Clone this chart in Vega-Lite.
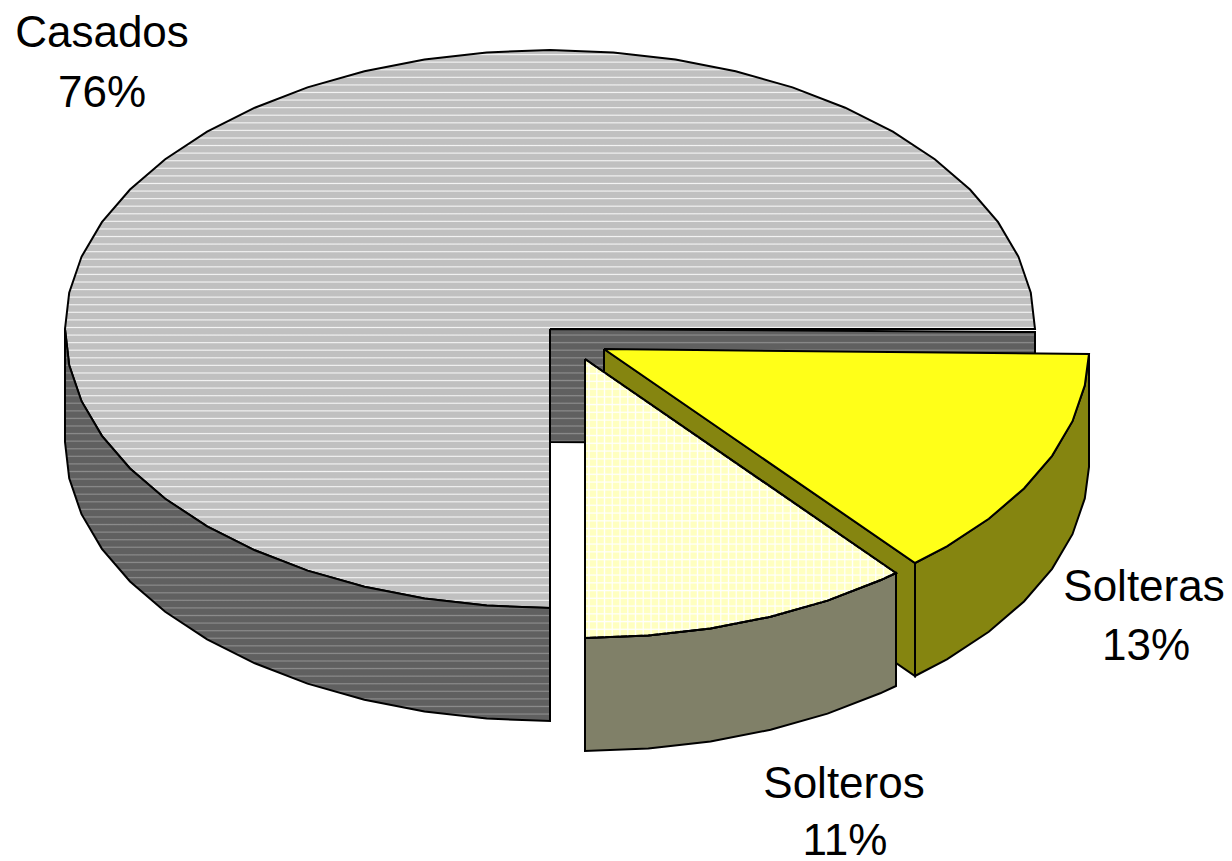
{"$schema":"https://vega.github.io/schema/vega-lite/v6.json","width":1232,"height":861,"padding":0,"autosize":"none","background":"white","view":{"stroke":null},
"datasets":{"shapes":[
{"p":"wall","i":0,"x":550,"y":329},{"p":"wall","i":1,"x":1035,"y":332},{"p":"wall","i":2,"x":1035,"y":445},{"p":"wall","i":3,"x":550,"y":442},{"p":"wall","i":4,"x":550,"y":329},
{"p":"ctop","i":0,"x":550,"y":329},{"p":"ctop","i":1,"x":1035,"y":329},{"p":"ctop","i":2,"x":1030.8,"y":292.6},{"p":"ctop","i":3,"x":1018.5,"y":256.8},{"p":"ctop","i":4,"x":998.1,"y":222.2},{"p":"ctop","i":5,"x":970,"y":189.5},{"p":"ctop","i":6,"x":934.8,"y":159.2},{"p":"ctop","i":7,"x":892.9,"y":131.7},{"p":"ctop","i":8,"x":845.2,"y":107.7},{"p":"ctop","i":9,"x":792.5,"y":87.4},{"p":"ctop","i":10,"x":735.6,"y":71.2},{"p":"ctop","i":11,"x":675.5,"y":59.5},{"p":"ctop","i":12,"x":613.3,"y":52.4},{"p":"ctop","i":13,"x":550,"y":50},{"p":"ctop","i":14,"x":486.7,"y":52.4},{"p":"ctop","i":15,"x":424.5,"y":59.5},{"p":"ctop","i":16,"x":364.4,"y":71.2},{"p":"ctop","i":17,"x":307.5,"y":87.4},{"p":"ctop","i":18,"x":254.8,"y":107.7},{"p":"ctop","i":19,"x":207.1,"y":131.7},{"p":"ctop","i":20,"x":165.2,"y":159.2},{"p":"ctop","i":21,"x":130,"y":189.5},{"p":"ctop","i":22,"x":101.9,"y":222.2},{"p":"ctop","i":23,"x":81.5,"y":256.8},{"p":"ctop","i":24,"x":69.2,"y":292.6},{"p":"ctop","i":25,"x":65,"y":329},{"p":"ctop","i":26,"x":69.2,"y":365.4},{"p":"ctop","i":27,"x":81.5,"y":401.2},{"p":"ctop","i":28,"x":101.9,"y":435.8},{"p":"ctop","i":29,"x":130,"y":468.5},{"p":"ctop","i":30,"x":165.2,"y":498.8},{"p":"ctop","i":31,"x":207.1,"y":526.3},{"p":"ctop","i":32,"x":254.8,"y":550.3},{"p":"ctop","i":33,"x":307.5,"y":570.6},{"p":"ctop","i":34,"x":364.4,"y":586.8},{"p":"ctop","i":35,"x":424.5,"y":598.5},{"p":"ctop","i":36,"x":486.7,"y":605.6},{"p":"ctop","i":37,"x":550,"y":608},{"p":"ctop","i":38,"x":550,"y":329},
{"p":"cside","i":0,"x":65,"y":329},{"p":"cside","i":1,"x":69.2,"y":365.4},{"p":"cside","i":2,"x":81.5,"y":401.2},{"p":"cside","i":3,"x":101.9,"y":435.8},{"p":"cside","i":4,"x":130,"y":468.5},{"p":"cside","i":5,"x":165.2,"y":498.8},{"p":"cside","i":6,"x":207.1,"y":526.3},{"p":"cside","i":7,"x":254.8,"y":550.3},{"p":"cside","i":8,"x":307.5,"y":570.6},{"p":"cside","i":9,"x":364.4,"y":586.8},{"p":"cside","i":10,"x":424.5,"y":598.5},{"p":"cside","i":11,"x":486.7,"y":605.6},{"p":"cside","i":12,"x":550,"y":608},{"p":"cside","i":13,"x":550,"y":721},{"p":"cside","i":14,"x":486.7,"y":718.6},{"p":"cside","i":15,"x":424.5,"y":711.5},{"p":"cside","i":16,"x":364.4,"y":699.8},{"p":"cside","i":17,"x":307.5,"y":683.6},{"p":"cside","i":18,"x":254.8,"y":663.3},{"p":"cside","i":19,"x":207.1,"y":639.3},{"p":"cside","i":20,"x":165.2,"y":611.8},{"p":"cside","i":21,"x":130,"y":581.5},{"p":"cside","i":22,"x":101.9,"y":548.8},{"p":"cside","i":23,"x":81.5,"y":514.2},{"p":"cside","i":24,"x":69.2,"y":478.4},{"p":"cside","i":25,"x":65,"y":442},{"p":"cside","i":26,"x":65,"y":329},
{"p":"ywall","i":0,"x":604,"y":349},{"p":"ywall","i":1,"x":915,"y":563},{"p":"ywall","i":2,"x":915,"y":676},{"p":"ywall","i":3,"x":604,"y":462},{"p":"ywall","i":4,"x":604,"y":349},
{"p":"yside","i":0,"x":1089,"y":354},{"p":"yside","i":1,"x":1084.8,"y":385.4},{"p":"yside","i":2,"x":1072.5,"y":421.2},{"p":"yside","i":3,"x":1052.1,"y":455.8},{"p":"yside","i":4,"x":1024,"y":488.5},{"p":"yside","i":5,"x":988.8,"y":518.8},{"p":"yside","i":6,"x":946.9,"y":546.3},{"p":"yside","i":7,"x":915,"y":563},{"p":"yside","i":8,"x":915,"y":676},{"p":"yside","i":9,"x":946.9,"y":659.3},{"p":"yside","i":10,"x":988.8,"y":631.8},{"p":"yside","i":11,"x":1024,"y":601.5},{"p":"yside","i":12,"x":1052.1,"y":568.8},{"p":"yside","i":13,"x":1072.5,"y":534.2},{"p":"yside","i":14,"x":1084.8,"y":498.4},{"p":"yside","i":15,"x":1089,"y":467},{"p":"yside","i":16,"x":1089,"y":354},
{"p":"ytop","i":0,"x":604,"y":349},{"p":"ytop","i":1,"x":1089,"y":354},{"p":"ytop","i":2,"x":1084.8,"y":385.4},{"p":"ytop","i":3,"x":1072.5,"y":421.2},{"p":"ytop","i":4,"x":1052.1,"y":455.8},{"p":"ytop","i":5,"x":1024,"y":488.5},{"p":"ytop","i":6,"x":988.8,"y":518.8},{"p":"ytop","i":7,"x":946.9,"y":546.3},{"p":"ytop","i":8,"x":915,"y":563},{"p":"ytop","i":9,"x":604,"y":349},
{"p":"sside","i":0,"x":585,"y":638},{"p":"sside","i":1,"x":648.3,"y":635.6},{"p":"sside","i":2,"x":710.5,"y":628.5},{"p":"sside","i":3,"x":770.6,"y":616.8},{"p":"sside","i":4,"x":827.5,"y":600.6},{"p":"sside","i":5,"x":880.2,"y":580.3},{"p":"sside","i":6,"x":896,"y":573},{"p":"sside","i":7,"x":896,"y":686},{"p":"sside","i":8,"x":880.2,"y":693.3},{"p":"sside","i":9,"x":827.5,"y":713.6},{"p":"sside","i":10,"x":770.6,"y":729.8},{"p":"sside","i":11,"x":710.5,"y":741.5},{"p":"sside","i":12,"x":648.3,"y":748.6},{"p":"sside","i":13,"x":585,"y":751},{"p":"sside","i":14,"x":585,"y":638},
{"p":"stop","i":0,"x":585,"y":359},{"p":"stop","i":1,"x":896,"y":573},{"p":"stop","i":2,"x":880.2,"y":580.3},{"p":"stop","i":3,"x":827.5,"y":600.6},{"p":"stop","i":4,"x":770.6,"y":616.8},{"p":"stop","i":5,"x":710.5,"y":628.5},{"p":"stop","i":6,"x":648.3,"y":635.6},{"p":"stop","i":7,"x":585,"y":638},{"p":"stop","i":8,"x":585,"y":359}
],"labels":[{"t":"Casados","x":102,"y":47},{"t":"76%","x":102,"y":107},{"t":"Solteras","x":1144,"y":601},{"t":"13%","x":1146,"y":660},{"t":"Solteros","x":844,"y":798},{"t":"11%","x":845,"y":855}]},
"encoding":{"x":{"field":"x","type":"quantitative","scale":{"domain":[0,1232]},"axis":null},"y":{"field":"y","type":"quantitative","scale":{"domain":[861,0]},"axis":null}},
"layer":[
{"data":{"name":"shapes"},"transform":[{"filter":"datum.p=='wall'"}],"mark":{"type":"line","stroke":"black","strokeWidth":2,"fill":{"gradient":"linear","x1":0,"y1":0,"x2":0,"y2":1,"stops":[
{"offset":0.0418,"color":"#606060"},{"offset":0.0521,"color":"#8c8c8c"},{"offset":0.0624,"color":"#606060"},{"offset":0.1071,"color":"#606060"},{"offset":0.1174,"color":"#8c8c8c"},{"offset":0.1277,"color":"#606060"},{"offset":0.1725,"color":"#606060"},{"offset":0.1828,"color":"#8c8c8c"},{"offset":0.1931,"color":"#606060"},{"offset":0.2378,"color":"#606060"},{"offset":0.2481,"color":"#8c8c8c"},{"offset":0.2584,"color":"#606060"},{"offset":0.3032,"color":"#606060"},{"offset":0.3135,"color":"#8c8c8c"},{"offset":0.3238,"color":"#606060"},{"offset":0.3685,"color":"#606060"},{"offset":0.3788,"color":"#8c8c8c"},{"offset":0.3891,"color":"#606060"},{"offset":0.4338,"color":"#606060"},{"offset":0.4441,"color":"#8c8c8c"},{"offset":0.4544,"color":"#606060"},{"offset":0.4992,"color":"#606060"},{"offset":0.5095,"color":"#8c8c8c"},{"offset":0.5198,"color":"#606060"},{"offset":0.5645,"color":"#606060"},{"offset":0.5748,"color":"#8c8c8c"},{"offset":0.5851,"color":"#606060"},{"offset":0.6299,"color":"#606060"},{"offset":0.6402,"color":"#8c8c8c"},{"offset":0.6505,"color":"#606060"},{"offset":0.6952,"color":"#606060"},{"offset":0.7055,"color":"#8c8c8c"},{"offset":0.7158,"color":"#606060"},{"offset":0.7605,"color":"#606060"},{"offset":0.7708,"color":"#8c8c8c"},{"offset":0.7811,"color":"#606060"},{"offset":0.8259,"color":"#606060"},{"offset":0.8362,"color":"#8c8c8c"},{"offset":0.8465,"color":"#606060"},{"offset":0.8912,"color":"#606060"},{"offset":0.9015,"color":"#8c8c8c"},{"offset":0.9118,"color":"#606060"},{"offset":0.9566,"color":"#606060"},{"offset":0.9669,"color":"#8c8c8c"},{"offset":0.9772,"color":"#606060"}]},"clip":false},"encoding":{"order":{"field":"i"}}},
{"data":{"name":"shapes"},"transform":[{"filter":"datum.p=='ctop'"}],"mark":{"type":"line","stroke":"black","strokeWidth":2,"fill":{"gradient":"linear","x1":0,"y1":0,"x2":0,"y2":1,"stops":[
{"offset":0.0062,"color":"#c0c0c0"},{"offset":0.0082,"color":"#f4f4f4"},{"offset":0.0102,"color":"#c0c0c0"},{"offset":0.0198,"color":"#c0c0c0"},{"offset":0.0218,"color":"#f4f4f4"},{"offset":0.0238,"color":"#c0c0c0"},{"offset":0.0334,"color":"#c0c0c0"},{"offset":0.0354,"color":"#f4f4f4"},{"offset":0.0374,"color":"#c0c0c0"},{"offset":0.047,"color":"#c0c0c0"},{"offset":0.049,"color":"#f4f4f4"},{"offset":0.051,"color":"#c0c0c0"},{"offset":0.0606,"color":"#c0c0c0"},{"offset":0.0626,"color":"#f4f4f4"},{"offset":0.0646,"color":"#c0c0c0"},{"offset":0.0741,"color":"#c0c0c0"},{"offset":0.0761,"color":"#f4f4f4"},{"offset":0.0781,"color":"#c0c0c0"},{"offset":0.0877,"color":"#c0c0c0"},{"offset":0.0897,"color":"#f4f4f4"},{"offset":0.0917,"color":"#c0c0c0"},{"offset":0.1013,"color":"#c0c0c0"},{"offset":0.1033,"color":"#f4f4f4"},{"offset":0.1053,"color":"#c0c0c0"},{"offset":0.1149,"color":"#c0c0c0"},{"offset":0.1169,"color":"#f4f4f4"},{"offset":0.1189,"color":"#c0c0c0"},{"offset":0.1285,"color":"#c0c0c0"},{"offset":0.1305,"color":"#f4f4f4"},{"offset":0.1325,"color":"#c0c0c0"},{"offset":0.1421,"color":"#c0c0c0"},{"offset":0.1441,"color":"#f4f4f4"},{"offset":0.1461,"color":"#c0c0c0"},{"offset":0.1557,"color":"#c0c0c0"},{"offset":0.1577,"color":"#f4f4f4"},{"offset":0.1597,"color":"#c0c0c0"},{"offset":0.1692,"color":"#c0c0c0"},{"offset":0.1712,"color":"#f4f4f4"},{"offset":0.1732,"color":"#c0c0c0"},{"offset":0.1828,"color":"#c0c0c0"},{"offset":0.1848,"color":"#f4f4f4"},{"offset":0.1868,"color":"#c0c0c0"},{"offset":0.1964,"color":"#c0c0c0"},{"offset":0.1984,"color":"#f4f4f4"},{"offset":0.2004,"color":"#c0c0c0"},{"offset":0.21,"color":"#c0c0c0"},{"offset":0.212,"color":"#f4f4f4"},{"offset":0.214,"color":"#c0c0c0"},{"offset":0.2236,"color":"#c0c0c0"},{"offset":0.2256,"color":"#f4f4f4"},{"offset":0.2276,"color":"#c0c0c0"},{"offset":0.2372,"color":"#c0c0c0"},{"offset":0.2392,"color":"#f4f4f4"},{"offset":0.2412,"color":"#c0c0c0"},{"offset":0.2508,"color":"#c0c0c0"},{"offset":0.2528,"color":"#f4f4f4"},{"offset":0.2548,"color":"#c0c0c0"},{"offset":0.2643,"color":"#c0c0c0"},{"offset":0.2663,"color":"#f4f4f4"},{"offset":0.2683,"color":"#c0c0c0"},{"offset":0.2779,"color":"#c0c0c0"},{"offset":0.2799,"color":"#f4f4f4"},{"offset":0.2819,"color":"#c0c0c0"},{"offset":0.2915,"color":"#c0c0c0"},{"offset":0.2935,"color":"#f4f4f4"},{"offset":0.2955,"color":"#c0c0c0"},{"offset":0.3051,"color":"#c0c0c0"},{"offset":0.3071,"color":"#f4f4f4"},{"offset":0.3091,"color":"#c0c0c0"},{"offset":0.3187,"color":"#c0c0c0"},{"offset":0.3207,"color":"#f4f4f4"},{"offset":0.3227,"color":"#c0c0c0"},{"offset":0.3323,"color":"#c0c0c0"},{"offset":0.3343,"color":"#f4f4f4"},{"offset":0.3363,"color":"#c0c0c0"},{"offset":0.3458,"color":"#c0c0c0"},{"offset":0.3478,"color":"#f4f4f4"},{"offset":0.3498,"color":"#c0c0c0"},{"offset":0.3594,"color":"#c0c0c0"},{"offset":0.3614,"color":"#f4f4f4"},{"offset":0.3634,"color":"#c0c0c0"},{"offset":0.373,"color":"#c0c0c0"},{"offset":0.375,"color":"#f4f4f4"},{"offset":0.377,"color":"#c0c0c0"},{"offset":0.3866,"color":"#c0c0c0"},{"offset":0.3886,"color":"#f4f4f4"},{"offset":0.3906,"color":"#c0c0c0"},{"offset":0.4002,"color":"#c0c0c0"},{"offset":0.4022,"color":"#f4f4f4"},{"offset":0.4042,"color":"#c0c0c0"},{"offset":0.4138,"color":"#c0c0c0"},{"offset":0.4158,"color":"#f4f4f4"},{"offset":0.4178,"color":"#c0c0c0"},{"offset":0.4273,"color":"#c0c0c0"},{"offset":0.4293,"color":"#f4f4f4"},{"offset":0.4313,"color":"#c0c0c0"},{"offset":0.4409,"color":"#c0c0c0"},{"offset":0.4429,"color":"#f4f4f4"},{"offset":0.4449,"color":"#c0c0c0"},{"offset":0.4545,"color":"#c0c0c0"},{"offset":0.4565,"color":"#f4f4f4"},{"offset":0.4585,"color":"#c0c0c0"},{"offset":0.4681,"color":"#c0c0c0"},{"offset":0.4701,"color":"#f4f4f4"},{"offset":0.4721,"color":"#c0c0c0"},{"offset":0.4817,"color":"#c0c0c0"},{"offset":0.4837,"color":"#f4f4f4"},{"offset":0.4857,"color":"#c0c0c0"},{"offset":0.4953,"color":"#c0c0c0"},{"offset":0.4973,"color":"#f4f4f4"},{"offset":0.4993,"color":"#c0c0c0"},{"offset":0.5089,"color":"#c0c0c0"},{"offset":0.5109,"color":"#f4f4f4"},{"offset":0.5129,"color":"#c0c0c0"},{"offset":0.5224,"color":"#c0c0c0"},{"offset":0.5244,"color":"#f4f4f4"},{"offset":0.5264,"color":"#c0c0c0"},{"offset":0.536,"color":"#c0c0c0"},{"offset":0.538,"color":"#f4f4f4"},{"offset":0.54,"color":"#c0c0c0"},{"offset":0.5496,"color":"#c0c0c0"},{"offset":0.5516,"color":"#f4f4f4"},{"offset":0.5536,"color":"#c0c0c0"},{"offset":0.5632,"color":"#c0c0c0"},{"offset":0.5652,"color":"#f4f4f4"},{"offset":0.5672,"color":"#c0c0c0"},{"offset":0.5768,"color":"#c0c0c0"},{"offset":0.5788,"color":"#f4f4f4"},{"offset":0.5808,"color":"#c0c0c0"},{"offset":0.5904,"color":"#c0c0c0"},{"offset":0.5924,"color":"#f4f4f4"},{"offset":0.5944,"color":"#c0c0c0"},{"offset":0.6039,"color":"#c0c0c0"},{"offset":0.6059,"color":"#f4f4f4"},{"offset":0.6079,"color":"#c0c0c0"},{"offset":0.6175,"color":"#c0c0c0"},{"offset":0.6195,"color":"#f4f4f4"},{"offset":0.6215,"color":"#c0c0c0"},{"offset":0.6311,"color":"#c0c0c0"},{"offset":0.6331,"color":"#f4f4f4"},{"offset":0.6351,"color":"#c0c0c0"},{"offset":0.6447,"color":"#c0c0c0"},{"offset":0.6467,"color":"#f4f4f4"},{"offset":0.6487,"color":"#c0c0c0"},{"offset":0.6583,"color":"#c0c0c0"},{"offset":0.6603,"color":"#f4f4f4"},{"offset":0.6623,"color":"#c0c0c0"},{"offset":0.6719,"color":"#c0c0c0"},{"offset":0.6739,"color":"#f4f4f4"},{"offset":0.6759,"color":"#c0c0c0"},{"offset":0.6854,"color":"#c0c0c0"},{"offset":0.6874,"color":"#f4f4f4"},{"offset":0.6894,"color":"#c0c0c0"},{"offset":0.699,"color":"#c0c0c0"},{"offset":0.701,"color":"#f4f4f4"},{"offset":0.703,"color":"#c0c0c0"},{"offset":0.7126,"color":"#c0c0c0"},{"offset":0.7146,"color":"#f4f4f4"},{"offset":0.7166,"color":"#c0c0c0"},{"offset":0.7262,"color":"#c0c0c0"},{"offset":0.7282,"color":"#f4f4f4"},{"offset":0.7302,"color":"#c0c0c0"},{"offset":0.7398,"color":"#c0c0c0"},{"offset":0.7418,"color":"#f4f4f4"},{"offset":0.7438,"color":"#c0c0c0"},{"offset":0.7534,"color":"#c0c0c0"},{"offset":0.7554,"color":"#f4f4f4"},{"offset":0.7574,"color":"#c0c0c0"},{"offset":0.767,"color":"#c0c0c0"},{"offset":0.769,"color":"#f4f4f4"},{"offset":0.771,"color":"#c0c0c0"},{"offset":0.7805,"color":"#c0c0c0"},{"offset":0.7825,"color":"#f4f4f4"},{"offset":0.7845,"color":"#c0c0c0"},{"offset":0.7941,"color":"#c0c0c0"},{"offset":0.7961,"color":"#f4f4f4"},{"offset":0.7981,"color":"#c0c0c0"},{"offset":0.8077,"color":"#c0c0c0"},{"offset":0.8097,"color":"#f4f4f4"},{"offset":0.8117,"color":"#c0c0c0"},{"offset":0.8213,"color":"#c0c0c0"},{"offset":0.8233,"color":"#f4f4f4"},{"offset":0.8253,"color":"#c0c0c0"},{"offset":0.8349,"color":"#c0c0c0"},{"offset":0.8369,"color":"#f4f4f4"},{"offset":0.8389,"color":"#c0c0c0"},{"offset":0.8485,"color":"#c0c0c0"},{"offset":0.8505,"color":"#f4f4f4"},{"offset":0.8525,"color":"#c0c0c0"},{"offset":0.862,"color":"#c0c0c0"},{"offset":0.864,"color":"#f4f4f4"},{"offset":0.866,"color":"#c0c0c0"},{"offset":0.8756,"color":"#c0c0c0"},{"offset":0.8776,"color":"#f4f4f4"},{"offset":0.8796,"color":"#c0c0c0"},{"offset":0.8892,"color":"#c0c0c0"},{"offset":0.8912,"color":"#f4f4f4"},{"offset":0.8932,"color":"#c0c0c0"},{"offset":0.9028,"color":"#c0c0c0"},{"offset":0.9048,"color":"#f4f4f4"},{"offset":0.9068,"color":"#c0c0c0"},{"offset":0.9164,"color":"#c0c0c0"},{"offset":0.9184,"color":"#f4f4f4"},{"offset":0.9204,"color":"#c0c0c0"},{"offset":0.93,"color":"#c0c0c0"},{"offset":0.932,"color":"#f4f4f4"},{"offset":0.934,"color":"#c0c0c0"},{"offset":0.9436,"color":"#c0c0c0"},{"offset":0.9456,"color":"#f4f4f4"},{"offset":0.9476,"color":"#c0c0c0"},{"offset":0.9571,"color":"#c0c0c0"},{"offset":0.9591,"color":"#f4f4f4"},{"offset":0.9611,"color":"#c0c0c0"},{"offset":0.9707,"color":"#c0c0c0"},{"offset":0.9727,"color":"#f4f4f4"},{"offset":0.9747,"color":"#c0c0c0"},{"offset":0.9843,"color":"#c0c0c0"},{"offset":0.9863,"color":"#f4f4f4"},{"offset":0.9883,"color":"#c0c0c0"}]}},"encoding":{"order":{"field":"i"}}},
{"data":{"name":"shapes"},"transform":[{"filter":"datum.p=='cside'"}],"mark":{"type":"line","stroke":"black","strokeWidth":2,"fill":{"gradient":"linear","x1":0,"y1":0,"x2":0,"y2":1,"stops":[
{"offset":0.0124,"color":"#606060"},{"offset":0.0154,"color":"#8c8c8c"},{"offset":0.0184,"color":"#606060"},{"offset":0.0317,"color":"#606060"},{"offset":0.0347,"color":"#8c8c8c"},{"offset":0.0377,"color":"#606060"},{"offset":0.0511,"color":"#606060"},{"offset":0.0541,"color":"#8c8c8c"},{"offset":0.0571,"color":"#606060"},{"offset":0.0704,"color":"#606060"},{"offset":0.0734,"color":"#8c8c8c"},{"offset":0.0764,"color":"#606060"},{"offset":0.0897,"color":"#606060"},{"offset":0.0927,"color":"#8c8c8c"},{"offset":0.0957,"color":"#606060"},{"offset":0.1091,"color":"#606060"},{"offset":0.1121,"color":"#8c8c8c"},{"offset":0.1151,"color":"#606060"},{"offset":0.1284,"color":"#606060"},{"offset":0.1314,"color":"#8c8c8c"},{"offset":0.1344,"color":"#606060"},{"offset":0.1478,"color":"#606060"},{"offset":0.1508,"color":"#8c8c8c"},{"offset":0.1538,"color":"#606060"},{"offset":0.1671,"color":"#606060"},{"offset":0.1701,"color":"#8c8c8c"},{"offset":0.1731,"color":"#606060"},{"offset":0.1864,"color":"#606060"},{"offset":0.1894,"color":"#8c8c8c"},{"offset":0.1924,"color":"#606060"},{"offset":0.2058,"color":"#606060"},{"offset":0.2088,"color":"#8c8c8c"},{"offset":0.2118,"color":"#606060"},{"offset":0.2251,"color":"#606060"},{"offset":0.2281,"color":"#8c8c8c"},{"offset":0.2311,"color":"#606060"},{"offset":0.2444,"color":"#606060"},{"offset":0.2474,"color":"#8c8c8c"},{"offset":0.2504,"color":"#606060"},{"offset":0.2638,"color":"#606060"},{"offset":0.2668,"color":"#8c8c8c"},{"offset":0.2698,"color":"#606060"},{"offset":0.2831,"color":"#606060"},{"offset":0.2861,"color":"#8c8c8c"},{"offset":0.2891,"color":"#606060"},{"offset":0.3025,"color":"#606060"},{"offset":0.3055,"color":"#8c8c8c"},{"offset":0.3085,"color":"#606060"},{"offset":0.3218,"color":"#606060"},{"offset":0.3248,"color":"#8c8c8c"},{"offset":0.3278,"color":"#606060"},{"offset":0.3411,"color":"#606060"},{"offset":0.3441,"color":"#8c8c8c"},{"offset":0.3471,"color":"#606060"},{"offset":0.3605,"color":"#606060"},{"offset":0.3635,"color":"#8c8c8c"},{"offset":0.3665,"color":"#606060"},{"offset":0.3798,"color":"#606060"},{"offset":0.3828,"color":"#8c8c8c"},{"offset":0.3858,"color":"#606060"},{"offset":0.3991,"color":"#606060"},{"offset":0.4021,"color":"#8c8c8c"},{"offset":0.4051,"color":"#606060"},{"offset":0.4185,"color":"#606060"},{"offset":0.4215,"color":"#8c8c8c"},{"offset":0.4245,"color":"#606060"},{"offset":0.4378,"color":"#606060"},{"offset":0.4408,"color":"#8c8c8c"},{"offset":0.4438,"color":"#606060"},{"offset":0.4572,"color":"#606060"},{"offset":0.4602,"color":"#8c8c8c"},{"offset":0.4632,"color":"#606060"},{"offset":0.4765,"color":"#606060"},{"offset":0.4795,"color":"#8c8c8c"},{"offset":0.4825,"color":"#606060"},{"offset":0.4958,"color":"#606060"},{"offset":0.4988,"color":"#8c8c8c"},{"offset":0.5018,"color":"#606060"},{"offset":0.5152,"color":"#606060"},{"offset":0.5182,"color":"#8c8c8c"},{"offset":0.5212,"color":"#606060"},{"offset":0.5345,"color":"#606060"},{"offset":0.5375,"color":"#8c8c8c"},{"offset":0.5405,"color":"#606060"},{"offset":0.5538,"color":"#606060"},{"offset":0.5568,"color":"#8c8c8c"},{"offset":0.5598,"color":"#606060"},{"offset":0.5732,"color":"#606060"},{"offset":0.5762,"color":"#8c8c8c"},{"offset":0.5792,"color":"#606060"},{"offset":0.5925,"color":"#606060"},{"offset":0.5955,"color":"#8c8c8c"},{"offset":0.5985,"color":"#606060"},{"offset":0.6119,"color":"#606060"},{"offset":0.6149,"color":"#8c8c8c"},{"offset":0.6179,"color":"#606060"},{"offset":0.6312,"color":"#606060"},{"offset":0.6342,"color":"#8c8c8c"},{"offset":0.6372,"color":"#606060"},{"offset":0.6505,"color":"#606060"},{"offset":0.6535,"color":"#8c8c8c"},{"offset":0.6565,"color":"#606060"},{"offset":0.6699,"color":"#606060"},{"offset":0.6729,"color":"#8c8c8c"},{"offset":0.6759,"color":"#606060"},{"offset":0.6892,"color":"#606060"},{"offset":0.6922,"color":"#8c8c8c"},{"offset":0.6952,"color":"#606060"},{"offset":0.7085,"color":"#606060"},{"offset":0.7115,"color":"#8c8c8c"},{"offset":0.7145,"color":"#606060"},{"offset":0.7279,"color":"#606060"},{"offset":0.7309,"color":"#8c8c8c"},{"offset":0.7339,"color":"#606060"},{"offset":0.7472,"color":"#606060"},{"offset":0.7502,"color":"#8c8c8c"},{"offset":0.7532,"color":"#606060"},{"offset":0.7666,"color":"#606060"},{"offset":0.7696,"color":"#8c8c8c"},{"offset":0.7726,"color":"#606060"},{"offset":0.7859,"color":"#606060"},{"offset":0.7889,"color":"#8c8c8c"},{"offset":0.7919,"color":"#606060"},{"offset":0.8052,"color":"#606060"},{"offset":0.8082,"color":"#8c8c8c"},{"offset":0.8112,"color":"#606060"},{"offset":0.8246,"color":"#606060"},{"offset":0.8276,"color":"#8c8c8c"},{"offset":0.8306,"color":"#606060"},{"offset":0.8439,"color":"#606060"},{"offset":0.8469,"color":"#8c8c8c"},{"offset":0.8499,"color":"#606060"},{"offset":0.8632,"color":"#606060"},{"offset":0.8662,"color":"#8c8c8c"},{"offset":0.8692,"color":"#606060"},{"offset":0.8826,"color":"#606060"},{"offset":0.8856,"color":"#8c8c8c"},{"offset":0.8886,"color":"#606060"},{"offset":0.9019,"color":"#606060"},{"offset":0.9049,"color":"#8c8c8c"},{"offset":0.9079,"color":"#606060"},{"offset":0.9213,"color":"#606060"},{"offset":0.9243,"color":"#8c8c8c"},{"offset":0.9273,"color":"#606060"},{"offset":0.9406,"color":"#606060"},{"offset":0.9436,"color":"#8c8c8c"},{"offset":0.9466,"color":"#606060"},{"offset":0.9599,"color":"#606060"},{"offset":0.9629,"color":"#8c8c8c"},{"offset":0.9659,"color":"#606060"},{"offset":0.9793,"color":"#606060"},{"offset":0.9823,"color":"#8c8c8c"},{"offset":0.9853,"color":"#606060"}]}},"encoding":{"order":{"field":"i"}}},
{"data":{"name":"shapes"},"transform":[{"filter":"datum.p=='ywall'"}],"mark":{"type":"line","fill":"#858510","stroke":"black","strokeWidth":2},"encoding":{"order":{"field":"i"}}},
{"data":{"name":"shapes"},"transform":[{"filter":"datum.p=='yside'"}],"mark":{"type":"line","fill":"#858510","stroke":"black","strokeWidth":2},"encoding":{"order":{"field":"i"}}},
{"data":{"name":"shapes"},"transform":[{"filter":"datum.p=='ytop'"}],"mark":{"type":"line","fill":"#ffff18","stroke":"black","strokeWidth":2},"encoding":{"order":{"field":"i"}}},
{"data":{"name":"shapes"},"transform":[{"filter":"datum.p=='sside'"}],"mark":{"type":"line","fill":"#808068","stroke":"black","strokeWidth":2},"encoding":{"order":{"field":"i"}}},
{"data":{"name":"shapes"},"transform":[{"filter":"datum.p=='stop'"}],"mark":{"type":"line","stroke":"black","strokeWidth":2,"fill":{"gradient":"linear","x1":0,"y1":0,"x2":0,"y2":1,"stops":[
{"offset":0.0199,"color":"#ffffc0"},{"offset":0.0244,"color":"#ffffff"},{"offset":0.0289,"color":"#ffffc0"},{"offset":0.0477,"color":"#ffffc0"},{"offset":0.0522,"color":"#ffffff"},{"offset":0.0567,"color":"#ffffc0"},{"offset":0.0755,"color":"#ffffc0"},{"offset":0.08,"color":"#ffffff"},{"offset":0.0845,"color":"#ffffc0"},{"offset":0.1032,"color":"#ffffc0"},{"offset":0.1077,"color":"#ffffff"},{"offset":0.1122,"color":"#ffffc0"},{"offset":0.131,"color":"#ffffc0"},{"offset":0.1355,"color":"#ffffff"},{"offset":0.14,"color":"#ffffc0"},{"offset":0.1588,"color":"#ffffc0"},{"offset":0.1633,"color":"#ffffff"},{"offset":0.1678,"color":"#ffffc0"},{"offset":0.1866,"color":"#ffffc0"},{"offset":0.1911,"color":"#ffffff"},{"offset":0.1956,"color":"#ffffc0"},{"offset":0.2144,"color":"#ffffc0"},{"offset":0.2189,"color":"#ffffff"},{"offset":0.2234,"color":"#ffffc0"},{"offset":0.2421,"color":"#ffffc0"},{"offset":0.2466,"color":"#ffffff"},{"offset":0.2511,"color":"#ffffc0"},{"offset":0.2699,"color":"#ffffc0"},{"offset":0.2744,"color":"#ffffff"},{"offset":0.2789,"color":"#ffffc0"},{"offset":0.2977,"color":"#ffffc0"},{"offset":0.3022,"color":"#ffffff"},{"offset":0.3067,"color":"#ffffc0"},{"offset":0.3255,"color":"#ffffc0"},{"offset":0.33,"color":"#ffffff"},{"offset":0.3345,"color":"#ffffc0"},{"offset":0.3533,"color":"#ffffc0"},{"offset":0.3578,"color":"#ffffff"},{"offset":0.3623,"color":"#ffffc0"},{"offset":0.381,"color":"#ffffc0"},{"offset":0.3855,"color":"#ffffff"},{"offset":0.39,"color":"#ffffc0"},{"offset":0.4088,"color":"#ffffc0"},{"offset":0.4133,"color":"#ffffff"},{"offset":0.4178,"color":"#ffffc0"},{"offset":0.4366,"color":"#ffffc0"},{"offset":0.4411,"color":"#ffffff"},{"offset":0.4456,"color":"#ffffc0"},{"offset":0.4644,"color":"#ffffc0"},{"offset":0.4689,"color":"#ffffff"},{"offset":0.4734,"color":"#ffffc0"},{"offset":0.4922,"color":"#ffffc0"},{"offset":0.4967,"color":"#ffffff"},{"offset":0.5012,"color":"#ffffc0"},{"offset":0.5199,"color":"#ffffc0"},{"offset":0.5244,"color":"#ffffff"},{"offset":0.5289,"color":"#ffffc0"},{"offset":0.5477,"color":"#ffffc0"},{"offset":0.5522,"color":"#ffffff"},{"offset":0.5567,"color":"#ffffc0"},{"offset":0.5755,"color":"#ffffc0"},{"offset":0.58,"color":"#ffffff"},{"offset":0.5845,"color":"#ffffc0"},{"offset":0.6033,"color":"#ffffc0"},{"offset":0.6078,"color":"#ffffff"},{"offset":0.6123,"color":"#ffffc0"},{"offset":0.6311,"color":"#ffffc0"},{"offset":0.6356,"color":"#ffffff"},{"offset":0.6401,"color":"#ffffc0"},{"offset":0.6588,"color":"#ffffc0"},{"offset":0.6633,"color":"#ffffff"},{"offset":0.6678,"color":"#ffffc0"},{"offset":0.6866,"color":"#ffffc0"},{"offset":0.6911,"color":"#ffffff"},{"offset":0.6956,"color":"#ffffc0"},{"offset":0.7144,"color":"#ffffc0"},{"offset":0.7189,"color":"#ffffff"},{"offset":0.7234,"color":"#ffffc0"},{"offset":0.7422,"color":"#ffffc0"},{"offset":0.7467,"color":"#ffffff"},{"offset":0.7512,"color":"#ffffc0"},{"offset":0.77,"color":"#ffffc0"},{"offset":0.7745,"color":"#ffffff"},{"offset":0.779,"color":"#ffffc0"},{"offset":0.7977,"color":"#ffffc0"},{"offset":0.8022,"color":"#ffffff"},{"offset":0.8067,"color":"#ffffc0"},{"offset":0.8255,"color":"#ffffc0"},{"offset":0.83,"color":"#ffffff"},{"offset":0.8345,"color":"#ffffc0"},{"offset":0.8533,"color":"#ffffc0"},{"offset":0.8578,"color":"#ffffff"},{"offset":0.8623,"color":"#ffffc0"},{"offset":0.8811,"color":"#ffffc0"},{"offset":0.8856,"color":"#ffffff"},{"offset":0.8901,"color":"#ffffc0"},{"offset":0.9089,"color":"#ffffc0"},{"offset":0.9134,"color":"#ffffff"},{"offset":0.9179,"color":"#ffffc0"},{"offset":0.9366,"color":"#ffffc0"},{"offset":0.9411,"color":"#ffffff"},{"offset":0.9456,"color":"#ffffc0"},{"offset":0.9644,"color":"#ffffc0"},{"offset":0.9689,"color":"#ffffff"},{"offset":0.9734,"color":"#ffffc0"}]}},"encoding":{"order":{"field":"i"}}},
{"data":{"name":"shapes"},"transform":[{"filter":"datum.p=='stop'"}],"mark":{"type":"line","stroke":"black","strokeWidth":2,"fill":{"gradient":"linear","x1":0,"y1":0,"x2":1,"y2":0,"stops":[
{"offset":0.0089,"color":"rgba(255,255,255,0)"},{"offset":0.0129,"color":"#ffffff"},{"offset":0.0169,"color":"rgba(255,255,255,0)"},{"offset":0.0338,"color":"rgba(255,255,255,0)"},{"offset":0.0378,"color":"#ffffff"},{"offset":0.0418,"color":"rgba(255,255,255,0)"},{"offset":0.0587,"color":"rgba(255,255,255,0)"},{"offset":0.0627,"color":"#ffffff"},{"offset":0.0667,"color":"rgba(255,255,255,0)"},{"offset":0.0837,"color":"rgba(255,255,255,0)"},{"offset":0.0877,"color":"#ffffff"},{"offset":0.0917,"color":"rgba(255,255,255,0)"},{"offset":0.1086,"color":"rgba(255,255,255,0)"},{"offset":0.1126,"color":"#ffffff"},{"offset":0.1166,"color":"rgba(255,255,255,0)"},{"offset":0.1335,"color":"rgba(255,255,255,0)"},{"offset":0.1375,"color":"#ffffff"},{"offset":0.1415,"color":"rgba(255,255,255,0)"},{"offset":0.1584,"color":"rgba(255,255,255,0)"},{"offset":0.1624,"color":"#ffffff"},{"offset":0.1664,"color":"rgba(255,255,255,0)"},{"offset":0.1833,"color":"rgba(255,255,255,0)"},{"offset":0.1873,"color":"#ffffff"},{"offset":0.1913,"color":"rgba(255,255,255,0)"},{"offset":0.2083,"color":"rgba(255,255,255,0)"},{"offset":0.2123,"color":"#ffffff"},{"offset":0.2163,"color":"rgba(255,255,255,0)"},{"offset":0.2332,"color":"rgba(255,255,255,0)"},{"offset":0.2372,"color":"#ffffff"},{"offset":0.2412,"color":"rgba(255,255,255,0)"},{"offset":0.2581,"color":"rgba(255,255,255,0)"},{"offset":0.2621,"color":"#ffffff"},{"offset":0.2661,"color":"rgba(255,255,255,0)"},{"offset":0.283,"color":"rgba(255,255,255,0)"},{"offset":0.287,"color":"#ffffff"},{"offset":0.291,"color":"rgba(255,255,255,0)"},{"offset":0.3079,"color":"rgba(255,255,255,0)"},{"offset":0.3119,"color":"#ffffff"},{"offset":0.3159,"color":"rgba(255,255,255,0)"},{"offset":0.3329,"color":"rgba(255,255,255,0)"},{"offset":0.3369,"color":"#ffffff"},{"offset":0.3409,"color":"rgba(255,255,255,0)"},{"offset":0.3578,"color":"rgba(255,255,255,0)"},{"offset":0.3618,"color":"#ffffff"},{"offset":0.3658,"color":"rgba(255,255,255,0)"},{"offset":0.3827,"color":"rgba(255,255,255,0)"},{"offset":0.3867,"color":"#ffffff"},{"offset":0.3907,"color":"rgba(255,255,255,0)"},{"offset":0.4076,"color":"rgba(255,255,255,0)"},{"offset":0.4116,"color":"#ffffff"},{"offset":0.4156,"color":"rgba(255,255,255,0)"},{"offset":0.4325,"color":"rgba(255,255,255,0)"},{"offset":0.4365,"color":"#ffffff"},{"offset":0.4405,"color":"rgba(255,255,255,0)"},{"offset":0.4575,"color":"rgba(255,255,255,0)"},{"offset":0.4615,"color":"#ffffff"},{"offset":0.4655,"color":"rgba(255,255,255,0)"},{"offset":0.4824,"color":"rgba(255,255,255,0)"},{"offset":0.4864,"color":"#ffffff"},{"offset":0.4904,"color":"rgba(255,255,255,0)"},{"offset":0.5073,"color":"rgba(255,255,255,0)"},{"offset":0.5113,"color":"#ffffff"},{"offset":0.5153,"color":"rgba(255,255,255,0)"},{"offset":0.5322,"color":"rgba(255,255,255,0)"},{"offset":0.5362,"color":"#ffffff"},{"offset":0.5402,"color":"rgba(255,255,255,0)"},{"offset":0.5571,"color":"rgba(255,255,255,0)"},{"offset":0.5611,"color":"#ffffff"},{"offset":0.5651,"color":"rgba(255,255,255,0)"},{"offset":0.5821,"color":"rgba(255,255,255,0)"},{"offset":0.5861,"color":"#ffffff"},{"offset":0.5901,"color":"rgba(255,255,255,0)"},{"offset":0.607,"color":"rgba(255,255,255,0)"},{"offset":0.611,"color":"#ffffff"},{"offset":0.615,"color":"rgba(255,255,255,0)"},{"offset":0.6319,"color":"rgba(255,255,255,0)"},{"offset":0.6359,"color":"#ffffff"},{"offset":0.6399,"color":"rgba(255,255,255,0)"},{"offset":0.6568,"color":"rgba(255,255,255,0)"},{"offset":0.6608,"color":"#ffffff"},{"offset":0.6648,"color":"rgba(255,255,255,0)"},{"offset":0.6817,"color":"rgba(255,255,255,0)"},{"offset":0.6857,"color":"#ffffff"},{"offset":0.6897,"color":"rgba(255,255,255,0)"},{"offset":0.7067,"color":"rgba(255,255,255,0)"},{"offset":0.7107,"color":"#ffffff"},{"offset":0.7147,"color":"rgba(255,255,255,0)"},{"offset":0.7316,"color":"rgba(255,255,255,0)"},{"offset":0.7356,"color":"#ffffff"},{"offset":0.7396,"color":"rgba(255,255,255,0)"},{"offset":0.7565,"color":"rgba(255,255,255,0)"},{"offset":0.7605,"color":"#ffffff"},{"offset":0.7645,"color":"rgba(255,255,255,0)"},{"offset":0.7814,"color":"rgba(255,255,255,0)"},{"offset":0.7854,"color":"#ffffff"},{"offset":0.7894,"color":"rgba(255,255,255,0)"},{"offset":0.8063,"color":"rgba(255,255,255,0)"},{"offset":0.8103,"color":"#ffffff"},{"offset":0.8143,"color":"rgba(255,255,255,0)"},{"offset":0.8313,"color":"rgba(255,255,255,0)"},{"offset":0.8353,"color":"#ffffff"},{"offset":0.8393,"color":"rgba(255,255,255,0)"},{"offset":0.8562,"color":"rgba(255,255,255,0)"},{"offset":0.8602,"color":"#ffffff"},{"offset":0.8642,"color":"rgba(255,255,255,0)"},{"offset":0.8811,"color":"rgba(255,255,255,0)"},{"offset":0.8851,"color":"#ffffff"},{"offset":0.8891,"color":"rgba(255,255,255,0)"},{"offset":0.906,"color":"rgba(255,255,255,0)"},{"offset":0.91,"color":"#ffffff"},{"offset":0.914,"color":"rgba(255,255,255,0)"},{"offset":0.9309,"color":"rgba(255,255,255,0)"},{"offset":0.9349,"color":"#ffffff"},{"offset":0.9389,"color":"rgba(255,255,255,0)"},{"offset":0.9559,"color":"rgba(255,255,255,0)"},{"offset":0.9599,"color":"#ffffff"},{"offset":0.9639,"color":"rgba(255,255,255,0)"},{"offset":0.9808,"color":"rgba(255,255,255,0)"},{"offset":0.9848,"color":"#ffffff"},{"offset":0.9888,"color":"rgba(255,255,255,0)"}]}},"encoding":{"order":{"field":"i"}}},
{"data":{"name":"labels"},"mark":{"type":"text","font":"Liberation Sans","fontSize":44,"align":"center","baseline":"alphabetic","color":"black"},"encoding":{"text":{"field":"t"}}}
]}
